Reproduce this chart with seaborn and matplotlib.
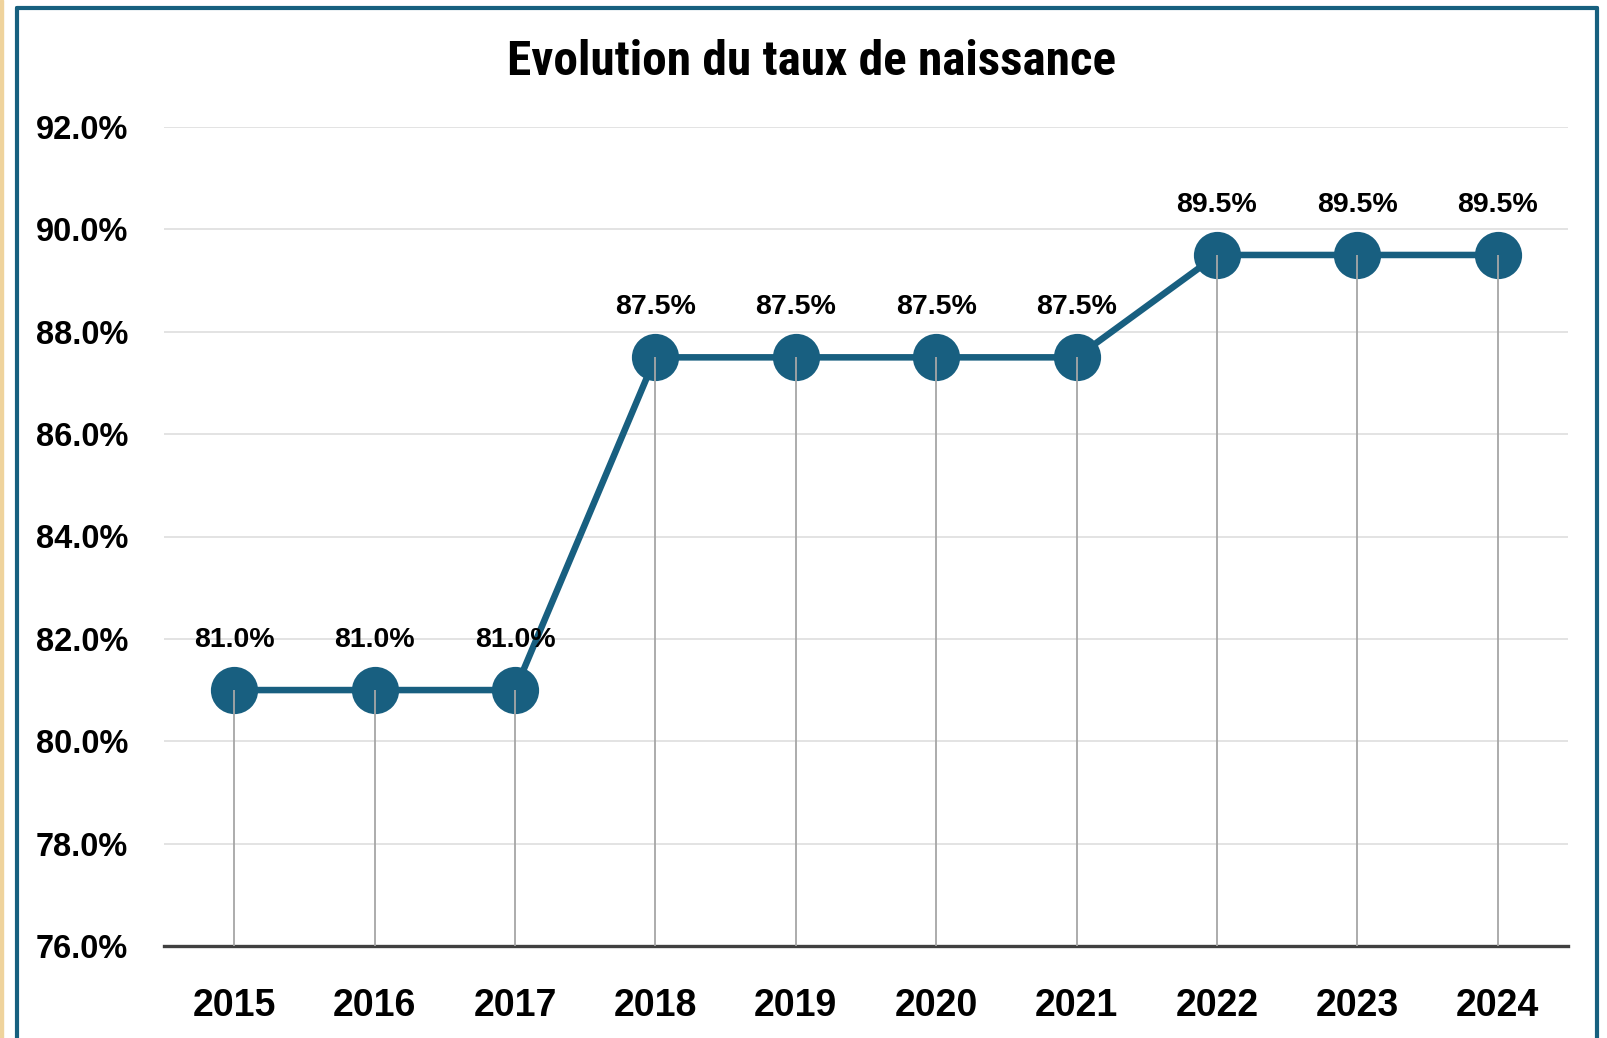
import matplotlib
matplotlib.use("Agg")
import matplotlib.pyplot as plt
import seaborn as sns
import numpy as np
import pandas as pd
from matplotlib.lines import Line2D
from matplotlib.patches import Rectangle
from matplotlib import font_manager

years = ["2015", "2016", "2017", "2018", "2019", "2020", "2021", "2022", "2023", "2024"]
rates = [81.0, 81.0, 81.0, 87.5, 87.5, 87.5, 87.5, 89.5, 89.5, 89.5]
y_ticks = [76.0, 78.0, 80.0, 82.0, 84.0, 86.0, 88.0, 90.0, 92.0]
title = "Evolution du taux de naissance"

sns.set_style("white")
plt.rcParams['font.family'] = ['Liberation Sans', 'DejaVu Sans']
plt.rcParams['text.color'] = 'black'
plt.rcParams['xtick.color'] = 'black'
plt.rcParams['ytick.color'] = 'black'

names = {f.name for f in font_manager.fontManager.ttflist}
title_family = ['Liberation Sans Narrow'] if 'Liberation Sans Narrow' in names else ['Roboto Condensed', 'Liberation Sans']
title_family = [f for f in title_family if f in names] or ['Liberation Sans']

W, H = 1608, 1038
fig = plt.figure(figsize=(W / 100, H / 100), dpi=100)
fig.patch.set_facecolor("white")
ax = fig.add_axes([164 / W, 1 - 946 / H, (1568 - 164) / W, (946 - 127) / H])

df = pd.DataFrame({"idx": np.arange(len(years)), "rate": rates})
color = "#185F80"

sns.lineplot(data=df, x="idx", y="rate", ax=ax, color=color, linewidth=4.7,
             marker="o", markersize=34, markeredgewidth=0, zorder=3)

ax.vlines(df["idx"], 76.0, df["rate"], color="#A6A6A6", linewidth=1.3, zorder=4)

for i, v in zip(df["idx"], df["rate"]):
    ax.annotate(f"{v:.1f}%", (i, v), xytext=(0, 36), textcoords="offset points",
                ha="center", va="center", fontsize=20.5, fontweight="bold",
                color="black", zorder=5)

ax.set_xlim(-0.5, len(years) - 0.5)
ax.set_ylim(76.0, 92.0)
ax.set_yticks(y_ticks)
ax.set_yticklabels([f"{t:.1f}%" for t in y_ticks], fontsize=23.5, fontweight="bold", color="black")
ax.set_xticks(df["idx"])
ax.set_xticklabels(years, fontsize=27, fontweight="bold", color="black")
ax.tick_params(axis="y", length=0, pad=26)
ax.tick_params(axis="x", length=0, pad=30)
ax.set_xlabel("")
ax.set_ylabel("")

ax.grid(axis="y", color="#E0E0E0", linewidth=1.3)
ax.grid(axis="x", visible=False)
for s in ["top", "right", "left"]:
    ax.spines[s].set_visible(False)
ax.spines["bottom"].set_color("#404040")
ax.spines["bottom"].set_linewidth(2.4)
ax.set_axisbelow(True)

fig.text(812 / W, 1 - 62 / H, title, ha="center", va="center", fontsize=35.5,
         fontweight="bold", family=title_family, color="black")

# outer frame
bc = "#17607F"
lw = 3.0
fig.add_artist(Line2D([17 / W, 17 / W], [0, 1 - 8 / H], color=bc, linewidth=lw, transform=fig.transFigure))
fig.add_artist(Line2D([1597 / W, 1597 / W], [0, 1 - 8 / H], color=bc, linewidth=lw, transform=fig.transFigure))
fig.add_artist(Line2D([17 / W, 1597 / W], [1 - 8 / H, 1 - 8 / H], color=bc, linewidth=lw, transform=fig.transFigure))
fig.add_artist(Rectangle((0, 0), 3 / W, 1, color="#EFD39C", transform=fig.transFigure))

fig.savefig("out.png", dpi=100)
